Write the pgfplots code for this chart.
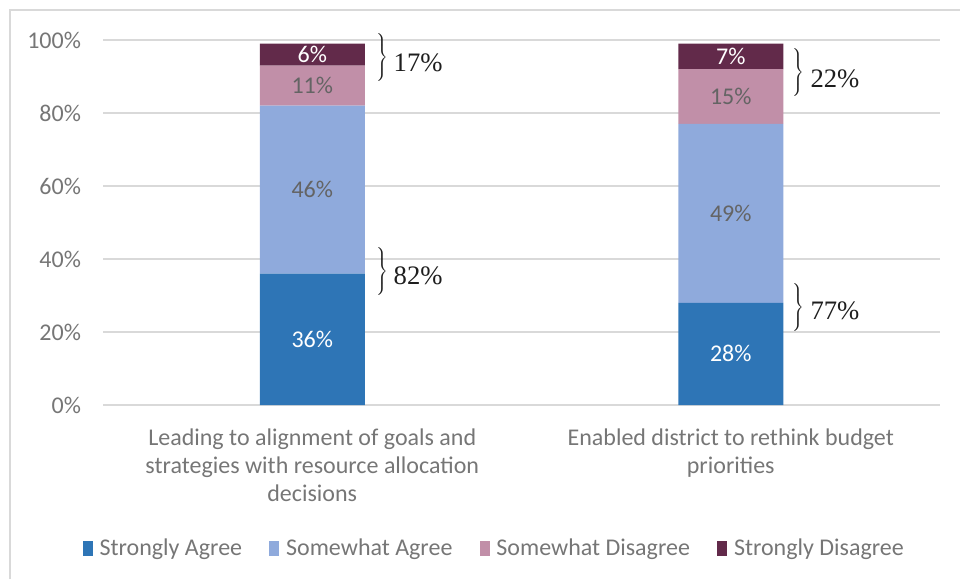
\documentclass[border=0pt]{standalone}
\usepackage{pgfplots}
\pgfplotsset{compat=1.18}
\usepackage{fontspec}
\setmainfont{Carlito}
\newfontfamily\brfont{Liberation Serif}
\definecolor{sa}{RGB}{46,117,182}
\definecolor{swa}{RGB}{143,170,220}
\definecolor{swd}{RGB}{193,143,168}
\definecolor{sd}{RGB}{98,42,74}
\definecolor{gridc}{RGB}{217,217,217}
\definecolor{txt}{RGB}{118,118,118}
\definecolor{lbl}{RGB}{100,100,100}
\definecolor{brc}{RGB}{30,30,30}
\newcommand{\mybrace}{$\left.\rule[-16.5pt]{0pt}{33pt}\right\}$}
\begin{document}
\begin{tikzpicture}
\useasboundingbox (0pt,0pt) rectangle (720pt,434.25pt);
\draw[gridc, line width=1.1pt] (7.5pt,0pt) -- (7.5pt,426.75pt) -- (720pt,426.75pt);
\begin{axis}[
  at={(77.25pt,130.5pt)}, anchor=south west,
  scale only axis, width=627.75pt, height=273.75pt,
  ybar stacked, bar width=78.75pt,
  xmin=-0.5, xmax=1.5, ymin=0, ymax=100,
  xtick={0,1},
  xticklabels={{Leading to alignment of goals and\\strategies with resource allocation\\decisions},{Enabled district to rethink budget\\priorities}},
  ytick={0,20,...,100}, yticklabel={\pgfmathprintnumber{\tick}\%},
  ymajorgrids, major grid style={gridc, line width=1.2pt},
  axis line style={draw=none}, major tick length=0pt,
  tick label style={font=\fontsize{18}{21}\selectfont, text=txt},
  /pgf/number format/assume math mode=true,
  xticklabel style={align=center, yshift=-14pt},
  yticklabel style={xshift=-13pt},
  legend columns=4,
  legend style={at={(0.468,-0.392)}, anchor=center, draw=none, fill=none,
    font=\fontsize{18}{21}\selectfont, text=txt,
    /tikz/every odd column/.append style={column sep=3pt},
    /tikz/every even column/.append style={column sep=18.5pt}},
  legend image code/.code={\fill[#1,draw=none] (0pt,-6pt) rectangle (7.5pt,5pt);},
  clip=false,
]
\addplot[fill=sa, draw=none] coordinates {(0,36) (1,28)};
\addplot[fill=swa, draw=none] coordinates {(0,46) (1,49)};
\addplot[fill=swd, draw=none] coordinates {(0,11) (1,15)};
\addplot[fill=sd, draw=none] coordinates {(0,6) (1,7)};
\legend{Strongly Agree, Somewhat Agree, Somewhat Disagree, Strongly Disagree}
\coordinate (a1) at (axis cs:0,18);
\coordinate (a2) at (axis cs:0,59);
\coordinate (a3) at (axis cs:0,87.5);
\coordinate (a4) at (axis cs:0,96);
\coordinate (b1) at (axis cs:1,14);
\coordinate (b2) at (axis cs:1,52.5);
\coordinate (b3) at (axis cs:1,84.5);
\coordinate (b4) at (axis cs:1,95.5);
\node[anchor=west, inner sep=0pt, brc] at (axis cs:0.148,95.1) {\mybrace};
\node[anchor=west, inner sep=0pt, brc] at (axis cs:0.148,36.4) {\mybrace};
\node[anchor=west, inner sep=0pt, brc] at (axis cs:1.142,91) {\mybrace};
\node[anchor=west, inner sep=0pt, brc] at (axis cs:1.142,26.6) {\mybrace};
\node[anchor=west, inner sep=0pt, brc, font=\brfont\fontsize{20}{20}\selectfont] at (axis cs:0.194,93.7) {17\%};
\node[anchor=west, inner sep=0pt, brc, font=\brfont\fontsize{20}{20}\selectfont] at (axis cs:0.194,35.3) {82\%};
\node[anchor=west, inner sep=0pt, brc, font=\brfont\fontsize{20}{20}\selectfont] at (axis cs:1.19,89.3) {22\%};
\node[anchor=west, inner sep=0pt, brc, font=\brfont\fontsize{20}{20}\selectfont] at (axis cs:1.19,25.8) {77\%};
\end{axis}
\begin{scope}[every node/.style={font=\fontsize{18}{21}\selectfont}]
\node[white] at (a1) {36\%};
\node[lbl] at (a2) {46\%};
\node[lbl] at (a3) {11\%};
\node[white] at (a4) {6\%};
\node[white] at (b1) {28\%};
\node[lbl] at (b2) {49\%};
\node[lbl] at (b3) {15\%};
\node[white] at (b4) {7\%};
\end{scope}
\end{tikzpicture}
\end{document}
